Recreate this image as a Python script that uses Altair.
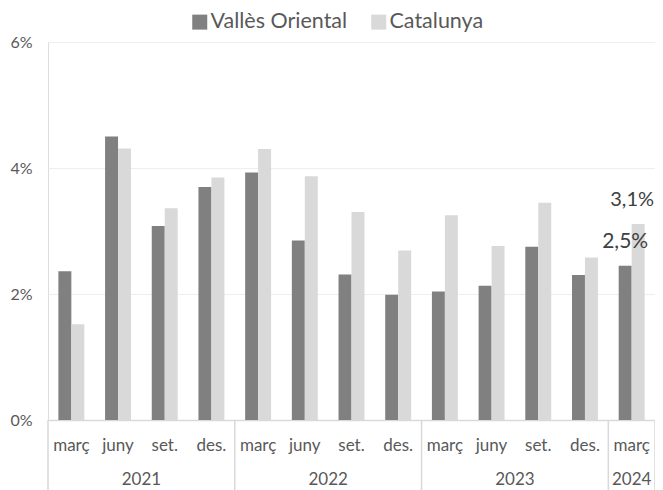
import altair as alt
import pandas as pd

months = ["març", "juny", "set.", "des.", "març", "juny", "set.", "des.",
          "març", "juny", "set.", "des.", "març"]
years = ["2021"] * 4 + ["2022"] * 4 + ["2023"] * 4 + ["2024"]
series_names = ["Vallès Oriental", "Catalunya"]
valles = [2.36, 4.50, 3.08, 3.70, 3.93, 2.85, 2.31, 1.99, 2.04, 2.13, 2.75, 2.30, 2.45]
catalunya = [1.52, 4.31, 3.36, 3.85, 4.30, 3.87, 3.30, 2.69, 3.25, 2.76, 3.45, 2.58, 3.11]
y_ticks = [0, 2, 4, 6]

keys = [f"{y} {m} {i}" for i, (y, m) in enumerate(zip(years, months))]

rows = []
for i, k in enumerate(keys):
    for s, vals in zip(series_names, [valles, catalunya]):
        rows.append({"key": k, "month": months[i], "year": years[i],
                     "series": s, "value": vals[i]})
df = pd.DataFrame(rows)

# year groups derived from data
groups = []
for y in dict.fromkeys(years):
    idx = [i for i, yy in enumerate(years) if yy == y]
    groups.append((y, idx))

sep_start = pd.DataFrame({"key": [keys[idx[0]] for _, idx in groups]})
sep_end = pd.DataFrame({"key": [keys[groups[-1][1][-1]]]})
year_even = pd.DataFrame([{"key": keys[idx[0] + len(idx) // 2], "year": y}
                          for y, idx in groups if len(idx) % 2 == 0])
year_odd = pd.DataFrame([{"key": keys[idx[0] + len(idx) // 2], "year": y}
                         for y, idx in groups if len(idx) % 2 == 1])

W, H = 607, 378
FONT = "Lato"
TXT = "#595959"

xscale = alt.Scale(domain=keys, paddingInner=0, paddingOuter=0)
yscale = alt.Scale(domain=[0, 6], nice=False)
offscale = alt.Scale(paddingInner=0, paddingOuter=0.8)

bars = alt.Chart(df).mark_bar().encode(
    x=alt.X("key:N", scale=xscale, sort=None,
            axis=alt.Axis(title=None, labelExpr="split(datum.label, ' ')[1]",
                          labelAngle=0, ticks=False, tickSize=0,
                          labelPadding=30, labelBaseline="alphabetic",
                          labelFontSize=17, labelColor=TXT, labelFont=FONT,
                          domainColor="#d9d9d9", domainWidth=1.5, grid=False)),
    xOffset=alt.XOffset("series:N", sort=series_names, scale=offscale),
    y=alt.Y("value:Q", scale=yscale,
            axis=alt.Axis(title=None, values=y_ticks, labelExpr="datum.value + '%'",
                          domain=False, ticks=False, labelPadding=16,
                          labelFontSize=16, labelColor=TXT, labelFont=FONT,
                          gridColor="#eeeeee", gridWidth=1)),
    color=alt.Color("series:N", sort=series_names,
                    scale=alt.Scale(domain=series_names, range=["#808080", "#d9d9d9"]),
                    legend=alt.Legend(title=None, orient="none", legendX=141, legendY=-31,
                                      direction="horizontal", symbolType="square",
                                      symbolSize=225, symbolStrokeWidth=0,
                                      labelFontSize=21.5, labelFont=FONT, labelColor=TXT,
                                      labelOffset=0, columnPadding=20)),
)

last_key = keys[-1]


def value_label(series, size, dx):
    return alt.Chart(df).transform_filter(
        (alt.datum.key == last_key) & (alt.datum.series == series)
    ).transform_calculate(
        lbl="replace(format(datum.value, '.1f'), '.', ',') + '%'"
    ).mark_text(baseline="alphabetic", dy=-18, dx=dx, fontSize=size, font=FONT,
                color="#404040").encode(
        x=alt.X("key:N", scale=xscale, sort=None),
        xOffset=alt.XOffset("series:N", sort=series_names, scale=offscale),
        y=alt.Y("value:Q", scale=yscale),
        text="lbl:N",
    )


label_v = value_label(series_names[0], 21, 0)
label_c = value_label(series_names[1], 20, -6)

rules1 = alt.Chart(sep_start).mark_rule(color="#d9d9d9", strokeWidth=1.5).encode(
    x=alt.X("key:N", scale=xscale, bandPosition=0),
    y=alt.value(H), y2=alt.value(H + 70),
)
rules2 = alt.Chart(sep_end).mark_rule(color="#d9d9d9", strokeWidth=1.5).encode(
    x=alt.X("key:N", scale=xscale, bandPosition=1),
    y=alt.value(H), y2=alt.value(H + 70),
)
ytext1 = alt.Chart(year_even).mark_text(baseline="alphabetic", fontSize=17, font=FONT,
                                        color=TXT).encode(
    x=alt.X("key:N", scale=xscale, bandPosition=0),
    y=alt.value(H + 65), text="year:N",
)
ytext2 = alt.Chart(year_odd).mark_text(baseline="alphabetic", fontSize=17, font=FONT,
                                       color=TXT).encode(
    x=alt.X("key:N", scale=xscale, bandPosition=0.5),
    y=alt.value(H + 65), text="year:N",
)

chart = alt.layer(bars, label_v, label_c, rules1, rules2, ytext1, ytext2).properties(
    width=W, height=H,
    autosize=alt.AutoSizeParams(type="none"),
    padding={"left": 40, "top": 34, "right": 0, "bottom": 70},
).configure_view(stroke=None).configure(background="white")

chart.save("out.html", embed_options={"renderer": "svg", "actions": False})
